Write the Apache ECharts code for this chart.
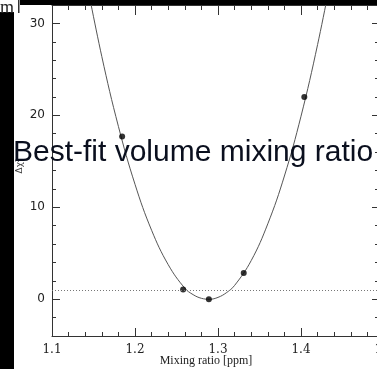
<!DOCTYPE html>
<html>
<head>
<meta charset="utf-8">
<script src="https://cdn.jsdelivr.net/npm/echarts@6/dist/echarts.min.js"></script>
<style>
  html, body { margin: 0; padding: 0; background: #ffffff; }
  #chart { width: 377px; height: 369px; }
</style>
</head>
<body>
<div id="chart"></div>
<script>
// measured data points (mixing ratio [ppm], delta chi^2)
const pointX = [1.1845, 1.258, 1.289, 1.331, 1.404];
const pointY = [17.7, 1.06, 0.0, 2.86, 22.0];

// fitted curve
const curveX = [1.14, 1.16, 1.18, 1.20, 1.22, 1.24, 1.26, 1.27, 1.28, 1.29, 1.30, 1.31, 1.32, 1.34, 1.36, 1.38, 1.40, 1.42, 1.44];
const curveY = [35.3, 26.4, 18.8, 12.5, 7.5, 3.76, 1.2, 0.5, 0.1, 0.0, 0.2, 0.7, 1.5, 4.2, 8.2, 13.4, 19.9, 27.7, 36.7];

// tick labels
const xTickLabels = [1.1, 1.2, 1.3, 1.4, 1.5];
const yTickLabels = [0, 10, 20, 30];

// reference level (delta chi^2 = 1)
const refLevel = 1;

const X_MIN = 1.1, X_MAX = 1.5, Y_MIN = -4, Y_MAX = 32;
const axisColor = '#333';

function xAx(position, opts, showLine) {
  return Object.assign({
    type: 'value', position: position, min: X_MIN, max: X_MAX,
    splitLine: { show: false },
    axisLine: { show: showLine, onZero: false, lineStyle: { color: axisColor, width: 1 } },
    axisLabel: { show: false }
  }, opts);
}
function yAx(position, opts, showLine) {
  return Object.assign({
    type: 'value', position: position, min: Y_MIN, max: Y_MAX,
    splitLine: { show: false },
    axisLine: { show: showLine, onZero: false, lineStyle: { color: axisColor, width: 1 } },
    axisLabel: { show: false }
  }, opts);
}

const chart = echarts.init(document.getElementById('chart'), null, { renderer: 'canvas' });

chart.setOption({
  animation: false,
  backgroundColor: '#ffffff',
  grid: { left: 52, top: 5, right: -7, bottom: 33, containLabel: false, outerBoundsMode: 'none' },
  xAxis: [
    xAx('bottom', {
      interval: 0.02,
      axisTick: { show: true, inside: true, length: 4, lineStyle: { color: axisColor } },
      axisLabel: {
        show: true, customValues: xTickLabels, margin: 8,
        formatter: v => Number(v).toFixed(1),
        fontFamily: 'DejaVu Serif', fontSize: 12, color: '#222'
      }
    }, true),
    xAx('bottom', {
      axisTick: { show: true, inside: true, length: 8, customValues: xTickLabels, lineStyle: { color: axisColor } }
    }, false),
    xAx('top', {
      interval: 0.02,
      axisTick: { show: true, inside: true, length: 5, lineStyle: { color: axisColor } }
    }, true),
    xAx('top', {
      axisTick: { show: true, inside: true, length: 10, customValues: xTickLabels, lineStyle: { color: axisColor } }
    }, false)
  ],
  yAxis: [
    yAx('left', {
      interval: 2,
      axisTick: { show: true, inside: true, length: 4, lineStyle: { color: axisColor } },
      axisLabel: {
        show: true, customValues: yTickLabels, margin: 7,
        fontFamily: 'DejaVu Sans', fontSize: 12, color: '#222'
      }
    }, true),
    yAx('left', {
      axisTick: { show: true, inside: true, length: 8, customValues: yTickLabels, lineStyle: { color: axisColor } }
    }, false),
    yAx('right', {
      interval: 2,
      axisTick: { show: true, inside: true, length: 9, lineStyle: { color: axisColor } }
    }, true),
    yAx('right', {
      axisTick: { show: true, inside: true, length: 12, customValues: yTickLabels, lineStyle: { color: axisColor } }
    }, false)
  ],
  series: [
    {
      type: 'line',
      xAxisIndex: 0, yAxisIndex: 0,
      data: curveX.map((x, i) => [x, curveY[i]]),
      smooth: 0.4,
      showSymbol: false,
      symbol: 'none',
      clip: true,
      lineStyle: { color: '#555', width: 1 },
      markLine: {
        silent: true,
        symbol: 'none',
        label: { show: false },
        lineStyle: { color: '#777', width: 1, type: [1, 2] },
        data: [{ yAxis: refLevel }]
      },
      z: 2
    },
    {
      type: 'scatter',
      xAxisIndex: 0, yAxisIndex: 0,
      data: pointX.map((x, i) => [x, pointY[i]]),
      symbol: 'circle',
      symbolSize: 6,
      itemStyle: { color: '#000' },
      z: 3
    }
  ],
  graphic: [
    { type: 'rect', left: 0, top: 12, shape: { width: 14, height: 357 }, style: { fill: '#000' }, z: 50 },
    { type: 'rect', left: 20, top: 0, shape: { width: 357, height: 5 }, style: { fill: '#000' }, z: 50 },
    { type: 'text', x: 0, y: 8, style: { text: 'm', fontFamily: 'Liberation Serif', fontSize: 18, fill: '#222', textVerticalAlign: 'middle' }, z: 51 },
    { type: 'rect', left: 18, top: 0, shape: { width: 1.5, height: 13 }, style: { fill: '#333' }, z: 51 },
    { type: 'text', x: 206, y: 361, style: { text: 'Mixing ratio [ppm]', fontFamily: 'Liberation Serif', fontSize: 12, fill: '#222', textAlign: 'center', textVerticalAlign: 'middle' }, z: 40 },
    { type: 'text', x: 20, y: 166, rotation: Math.PI / 2, style: { text: 'Δχ²', fontFamily: 'DejaVu Sans', fontSize: 9, fill: '#444', textAlign: 'center', textVerticalAlign: 'middle' }, z: 40 },
    { type: 'text', x: 13, y: 153, style: { text: 'Best-fit volume mixing ratio', fontFamily: 'Liberation Sans', fontSize: 30, fill: '#0a0f1e', textAlign: 'left', textVerticalAlign: 'middle' }, z: 60 }
  ]
});
</script>
</body>
</html>
